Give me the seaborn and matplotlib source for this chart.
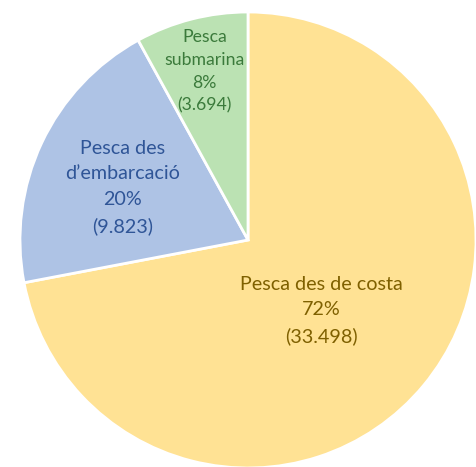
import matplotlib
matplotlib.use("Agg")
import matplotlib.pyplot as plt
import seaborn as sns

# Data
categories = ["Pesca des de costa", "Pesca des\nd\u2019embarcació", "Pesca\nsubmarina"]
counts = ["33.498", "9.823", "3.694"]
shares = [72, 20, 8]

wedge_colors = ["#FFE294", "#AEC3E5", "#BBE2B3"]
text_colors = ["#7F6000", "#2F5597", "#3B7A3B"]
font_sizes = [14.2, 14.2, 12.7]
line_sp = [1.62, 1.62, 1.52]
label_pos = [(0.32, -0.31), (-0.55, 0.23), (-0.19, 0.74)]

sns.set_theme(style="white")
plt.rcParams['font.family'] = ['Lato', 'DejaVu Sans']

fig = plt.figure(figsize=(4.76, 4.67), dpi=100)
ax = fig.add_axes([0, 0, 1, 1])
ax.pie(shares, colors=wedge_colors, startangle=90, counterclock=False,
       radius=1.0, wedgeprops=dict(edgecolor="white", linewidth=2))
for cat, cnt, sh, col, fs, ls, (x, y) in zip(categories, counts, shares, text_colors,
                                             font_sizes, line_sp, label_pos):
    ax.text(x, y, f"{cat}\n{sh}%\n({cnt})", ha="center", va="center",
            color=col, fontsize=fs, linespacing=ls)
ax.set_xlim(-248/228, 228/228)
ax.set_ylim(-(467-240)/228, 240/228)
ax.set_aspect("auto")
ax.axis("off")
fig.savefig("out.png", dpi=100)
